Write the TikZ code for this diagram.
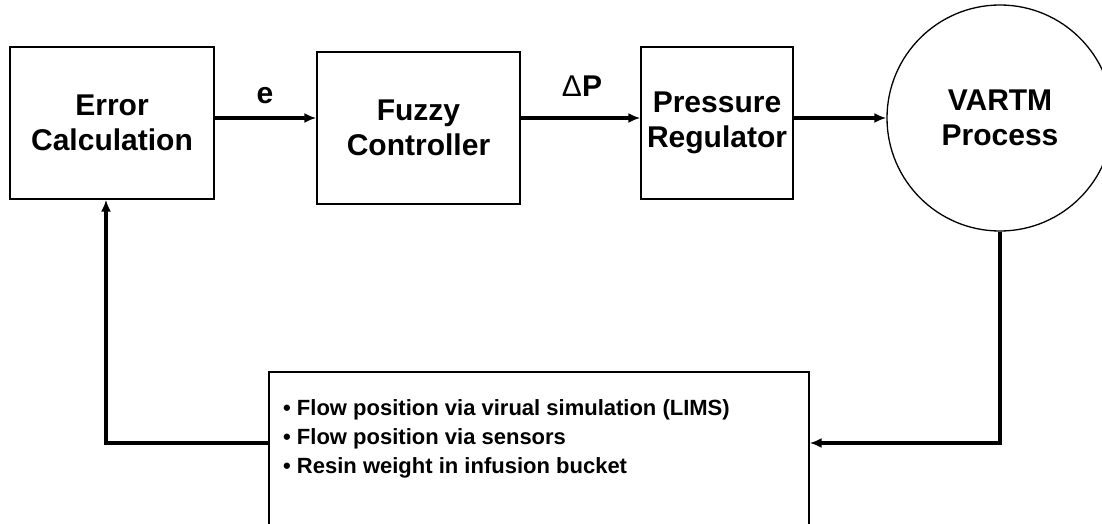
\documentclass[tikz,border=0pt]{standalone}
\usepackage{fontspec}
\setmainfont{Liberation Sans}
\usetikzlibrary{arrows.meta}
\tikzset{
  blockbox/.style={draw,line width=1.3pt,align=center,inner sep=0pt,
    font=\fontsize{30}{35}\selectfont\bfseries},
  sigarrow/.style={line width=3.2pt,-{Latex[length=12pt,width=10pt]}},
  siglabel/.style={font=\fontsize{30}{35}\selectfont\bfseries}
}
\begin{document}
\begin{tikzpicture}[x=1pt,y=-1pt]
\useasboundingbox (0,0) rectangle (1102,523);
\clip (0,0) rectangle (1102,523);
\begin{scope}
\node[blockbox,minimum width=204pt,minimum height=152pt] (err) at (112,123) {Error\\Calculation};
\node[blockbox,minimum width=203pt,minimum height=152pt] (fuz) at (418.5,128) {Fuzzy\\Controller};
\node[blockbox,minimum width=152pt,minimum height=152pt] (reg) at (717,123) {Pressure\\Regulator};
\node[blockbox,circle,minimum size=226pt] (vartm) at (1000,118) {VARTM\\Process};
\node[draw,line width=1.3pt,minimum width=540pt,minimum height=174pt] (fb) at (539,459) {};
\node[anchor=north west,align=left,inner sep=0pt,
  font=\fontsize{22}{29}\selectfont\bfseries] (fbtext) at (283,399)
  {• Flow position via virual simulation (LIMS)\\
   • Flow position via sensors\\
   • Resin weight in infusion bucket};
\end{scope}
\begin{scope}
\coordinate (lvl) at (0,118);
\coordinate (fbline) at (0,443);
\draw[sigarrow] (err.east |- lvl) -- (fuz.west |- lvl);
\draw[sigarrow] (fuz.east |- lvl) -- (reg.west |- lvl);
\draw[sigarrow] (reg.east |- lvl) -- (vartm.west);
\draw[sigarrow] (vartm.south) |- (fb.east |- fbline);
\draw[sigarrow] (fb.west |- fbline) -| ([xshift=-6pt]err.south);
\node[siglabel] (elabel) at (265,96) {e};
\node[siglabel] (dplabel) at (582,86) {{\mdseries Δ}P};
\end{scope}
\end{tikzpicture}
\end{document}
